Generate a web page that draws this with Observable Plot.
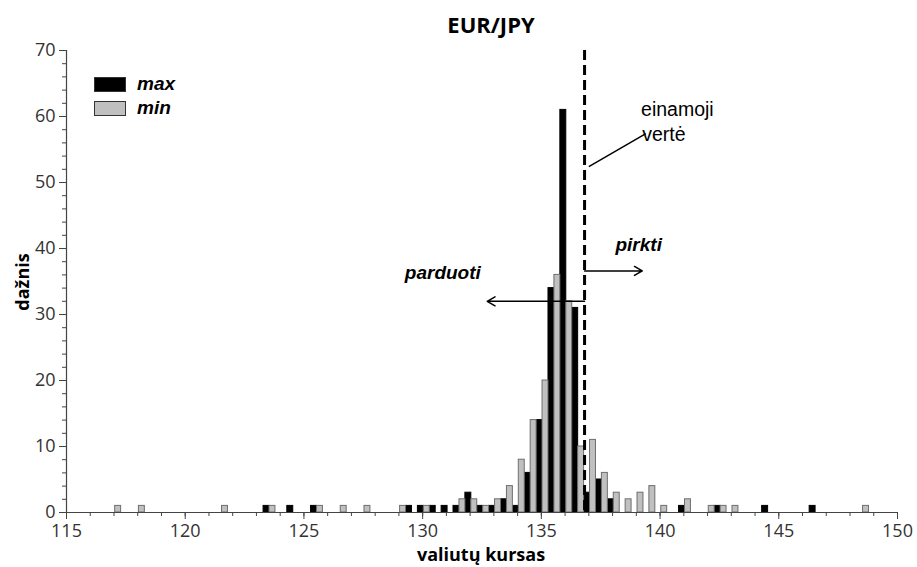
<!DOCTYPE html>
<html>
<head>
<meta charset="utf-8">
<script src="https://cdn.jsdelivr.net/npm/d3@7"></script>
<script src="https://cdn.jsdelivr.net/npm/@observablehq/plot@0.6"></script>
<style>
  html, body { margin: 0; padding: 0; background: #fff; }
  #wrap { position: relative; width: 917px; height: 567px; overflow: hidden; }
  #wrap svg { position: absolute; left: 0; top: 0; }
  .ovl { position: absolute; white-space: nowrap; line-height: 1.1; }
  #title { left: 491px; top: 24px; transform: translate(-50%, -50%); font: bold 22px "Open Sans"; color: #000; }
  #ylab { left: 22px; top: 282px; transform: translate(-50%, -50%) rotate(-90deg); font: bold 18px "Open Sans"; color: #000; }
  #xlab { left: 481px; top: 554px; transform: translate(-50%, -50%); font: bold 18px "Open Sans"; color: #000; }
  .sw { position: absolute; width: 30px; height: 13px; border: 1px solid #333; }
  .lt { position: absolute; font: italic bold 19px "Liberation Sans"; color: #000; transform: translateY(-50%); }
</style>
</head>
<body>
<div id="wrap">
  <div id="chart"></div>
  <div id="title" class="ovl">EUR/JPY</div>
  <div id="ylab" class="ovl">dažnis</div>
  <div id="xlab" class="ovl">valiutų kursas</div>
  <div id="legend"></div>
</div>
<script>
// ---- data ----
const binCenters = [117, 118, 121.5, 123.5, 124.5, 125.5, 126.5, 127.5,
  129, 129.5, 130, 130.5, 131, 131.5, 132, 132.5, 133, 133.5,
  134, 134.5, 135, 135.5, 136, 136.5, 137, 137.5, 138, 138.5,
  139, 139.5, 140, 141, 142, 142.5, 143, 144.5, 146.5, 148.5];
const maxCounts = [0, 0, 0, 1, 1, 1, 0, 0,
  0, 1, 1, 1, 1, 1, 3, 1, 1, 2,
  1, 6, 14, 34, 61, 31, 3, 5, 2, 0,
  0, 0, 0, 1, 0, 1, 0, 1, 1, 0];
const minCounts = [1, 1, 1, 1, 0, 1, 1, 1,
  1, 0, 1, 0, 0, 2, 2, 1, 2, 4,
  8, 14, 20, 36, 32, 10, 11, 6, 3, 2,
  3, 4, 1, 2, 1, 1, 1, 0, 0, 1];
const seriesNames = ["max", "min"];
const seriesColors = ["#000000", "#c0c0c0"];
const xTicks = [115, 120, 125, 130, 135, 140, 145, 150];
const yTicks = [0, 10, 20, 30, 40, 50, 60, 70];
const currentRate = 136.82;
const sellLabel = "parduoti";
const buyLabel = "pirkti";
const currentLabel = ["einamoji", "vertė"];

// annotation anchors (data coordinates)
const sellArrow = [{x1: currentRate, y1: 32, x2: 132.72, y2: 32}];
const buyArrow = [{x1: currentRate, y1: 36.6, x2: 139.25, y2: 36.6}];
const pointer = [{x1: 137.0, y1: 52.4, x2: 139.4, y2: 57.4}];
const sellText = [{x: 130.85, y: 36.3, t: sellLabel}];
const buyText = [{x: 139.1, y: 40.6, t: buyLabel}];
const curText = [{x: 139.2, y: 61.0, t: currentLabel[0]}, {x: 139.25, y: 57.3, t: currentLabel[1]}];

// ---- layout ----
const binWidth = 0.5, shift = 0.05;
const maxBars = binCenters.map((c, i) => ({x1: c - binWidth / 2 + shift, x2: c + shift, y: maxCounts[i]})).filter(d => d.y > 0);
const minBars = binCenters.map((c, i) => ({x1: c + shift, x2: c + binWidth / 2 + shift, y: minCounts[i]})).filter(d => d.y > 0);
const axisColor = "#444";

const chart = Plot.plot({
  width: 917, height: 567,
  marginLeft: 66, marginRight: 20, marginTop: 50, marginBottom: 55,
  x: {domain: [115, 150]},
  y: {domain: [0, 70]},
  style: {fontFamily: "'Open Sans'", fontSize: "18px", color: "#333", background: "transparent", overflow: "visible"},
  marks: [
    Plot.rectY(maxBars, {x1: "x1", x2: "x2", y: "y", fill: seriesColors[0], stroke: "#000", strokeWidth: 1}),
    Plot.rectY(minBars, {x1: "x1", x2: "x2", y: "y", fill: seriesColors[1], stroke: "#6e6e6e", strokeWidth: 1}),
    Plot.ruleY([0], {stroke: axisColor, strokeWidth: 1.2}),
    Plot.ruleX([115], {stroke: axisColor, strokeWidth: 1.2}),
    Plot.axisX({ticks: d3.range(115, 151, 1), tickSize: 4, tickFormat: () => "", stroke: axisColor, label: null}),
    Plot.axisX({ticks: xTicks, tickSize: 7, tickPadding: 5, stroke: axisColor, fill: "#333", label: null, fontSize: 18}),
    Plot.axisY({ticks: d3.range(0, 71, 2), tickSize: 4, tickFormat: () => "", stroke: axisColor, label: null}),
    Plot.axisY({ticks: yTicks, tickSize: 7, tickPadding: 4, stroke: axisColor, fill: "#333", label: null, fontSize: 18}),
    Plot.ruleX([currentRate], {stroke: "#000", strokeWidth: 3, strokeDasharray: "10,5"}),
    Plot.arrow(sellArrow, {x1: "x1", y1: "y1", x2: "x2", y2: "y2", stroke: "#000", strokeWidth: 1.5, headLength: 9}),
    Plot.arrow(buyArrow, {x1: "x1", y1: "y1", x2: "x2", y2: "y2", stroke: "#000", strokeWidth: 1.5, headLength: 9}),
    Plot.link(pointer, {x1: "x1", y1: "y1", x2: "x2", y2: "y2", stroke: "#000", strokeWidth: 1.5}),
    Plot.text(sellText, {x: "x", y: "y", text: "t", fontFamily: "Liberation Sans", fontSize: 19, fontWeight: "bold", fontStyle: "italic", fill: "#000", textAnchor: "middle"}),
    Plot.text(buyText, {x: "x", y: "y", text: "t", fontFamily: "Liberation Sans", fontSize: 19, fontWeight: "bold", fontStyle: "italic", fill: "#000", textAnchor: "middle"}),
    Plot.text(curText, {x: "x", y: "y", text: "t", fontFamily: "Liberation Sans", fontSize: 19.5, fill: "#000", textAnchor: "start"})
  ]
});
document.getElementById("chart").appendChild(chart);

// legend
const legend = document.getElementById("legend");
seriesNames.forEach((name, i) => {
  const sw = document.createElement("div");
  sw.className = "sw";
  sw.style.left = "94px";
  sw.style.top = (77 + i * 24) + "px";
  sw.style.background = seriesColors[i];
  legend.appendChild(sw);
  const lt = document.createElement("div");
  lt.className = "lt";
  lt.style.left = "137px";
  lt.style.top = (84 + i * 24) + "px";
  lt.textContent = name;
  legend.appendChild(lt);
});
</script>
</body>
</html>
